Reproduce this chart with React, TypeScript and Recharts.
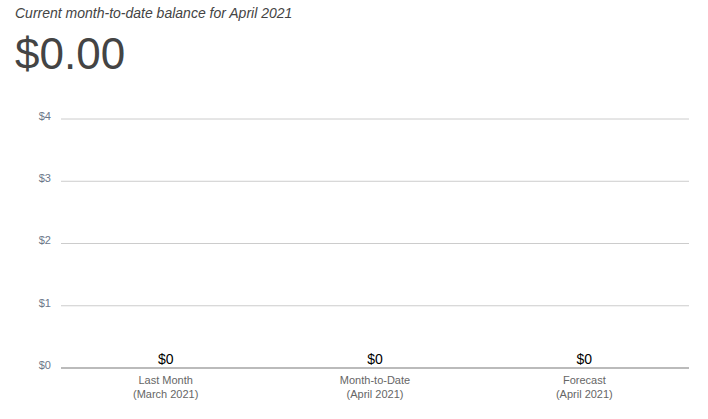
import { Bar, CartesianGrid, ComposedChart, LabelList, Line, XAxis, YAxis } from 'recharts'

const categories = ['Last Month', 'Month-to-Date', 'Forecast']
const periods = ['(March 2021)', '(April 2021)', '(April 2021)']
const balances = [0, 0, 0]
const yTicks = [0, 1, 2, 3, 4]

const data = categories.map((name, i) => ({ name, period: periods[i], balance: balances[i] }))

const font = '"Liberation Sans", Arial, sans-serif'

function CategoryTick({ x, y, payload, index }: any) {
  return (
    <g transform={`translate(${x},${y})`}>
      <text textAnchor="middle" fill="#666" fontSize={11} fontFamily={font}>
        <tspan x={0} dy={8}>{payload.value}</tspan>
        <tspan x={0} dy={14}>{periods[index]}</tspan>
      </text>
    </g>
  )
}

export default function App() {
  return (
    <div style={{ position: 'absolute', left: 0, top: 0, width: 708, height: 419, background: '#fff', fontFamily: font }}>
      <div style={{ position: 'absolute', left: 15, top: 5, fontSize: 14, fontStyle: 'italic', color: '#444' }}>
        Current month-to-date balance for April 2021
      </div>
      <div style={{ position: 'absolute', left: 15, top: 29, fontSize: 44, color: '#444' }}>$0.00</div>
      <ComposedChart
        width={708}
        height={419}
        data={data}
        margin={{ top: 119, right: 19, left: 0, bottom: 0 }}
        style={{ position: 'absolute', left: 0, top: 0 }}
      >
        <CartesianGrid stroke="#ccc" vertical={false} />
        <XAxis
          dataKey="name"
          height={51}
          tick={<CategoryTick />}
          tickLine={false}
          axisLine={{ stroke: '#bbb', strokeWidth: 2 }}
          interval={0}
        />
        <YAxis
          width={61}
          domain={[0, 4]}
          ticks={yTicks}
          tickFormatter={(v: number) => `$${v}`}
          tickLine={false}
          axisLine={false}
          tickSize={0}
          tickMargin={10}
          tick={{ fill: '#6b7789', fontSize: 11, fontFamily: font, dy: -3 }}
        />
        <Bar dataKey="balance" fill="#3366cc" isAnimationActive={false} />
        {/* invisible line just to carry the value labels for zero-height bars */}
        <Line
          dataKey="balance"
          stroke="none"
          dot={false}
          activeDot={false}
          isAnimationActive={false}
        >
          <LabelList
            dataKey="balance"
            position="top"
            offset={4}
            formatter={(v: any) => `$${v}`}
            fill="#000"
            fontSize={14}
            fontFamily={font}
          />
        </Line>
      </ComposedChart>
    </div>
  )
}
